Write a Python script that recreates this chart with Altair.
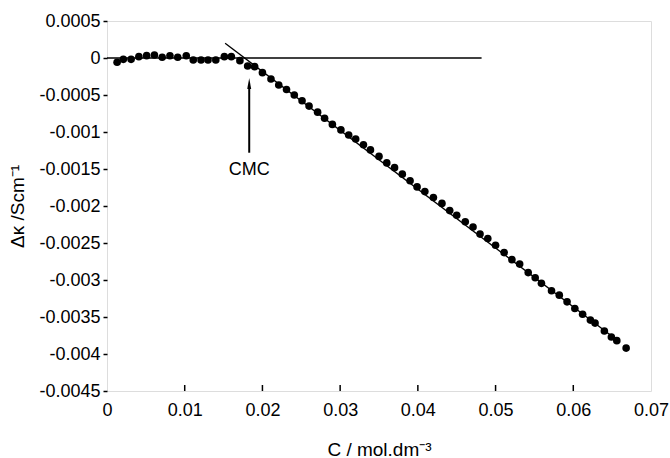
import altair as alt
import pandas as pd

# ---- data ----
conc = [0.0013, 0.0021, 0.0031, 0.0041, 0.0051, 0.0061, 0.0071, 0.0081, 0.0091, 0.0102,
        0.0111, 0.0121, 0.0130, 0.0140, 0.0151, 0.0160, 0.0171, 0.0181, 0.0190, 0.0200,
        0.0211, 0.0221, 0.0231, 0.0241, 0.0251, 0.0260, 0.0271, 0.0280, 0.0290, 0.0301,
        0.0311, 0.0320, 0.0330, 0.0339, 0.0350, 0.0360, 0.0370, 0.0380, 0.0390, 0.0399,
        0.0409, 0.0420, 0.0431, 0.0441, 0.0450, 0.0461, 0.0471, 0.0480, 0.0490, 0.0500,
        0.0511, 0.0521, 0.0531, 0.0542, 0.0551, 0.0559, 0.0572, 0.0582, 0.0592, 0.0602,
        0.0612, 0.0622, 0.0628, 0.0640, 0.0649, 0.0656, 0.0668]
dkappa = [-0.000058, -0.000018, -0.000018, 0.000018, 0.000032, 0.000040, 0.000010, 0.000030, 0.000010, 0.000030,
          -0.000027, -0.000027, -0.000027, -0.000027, 0.000018, 0.000018, -0.000036, -0.000108, -0.000117, -0.000198,
          -0.000284, -0.000365, -0.000425, -0.000500, -0.000578, -0.000650, -0.000732, -0.000815, -0.000897, -0.000972,
          -0.001040, -0.001095, -0.001172, -0.001242, -0.001330, -0.001418, -0.001482, -0.001570, -0.001658, -0.001742,
          -0.001805, -0.001885, -0.001965, -0.002062, -0.002125, -0.002212, -0.002283, -0.002380, -0.002440, -0.002530,
          -0.002630, -0.002725, -0.002785, -0.002900, -0.002970, -0.003045, -0.003145, -0.003205, -0.003295, -0.003385,
          -0.003462, -0.003542, -0.003582, -0.003690, -0.003770, -0.003820, -0.003920]

hline_c = [0.0, 0.0482]
hline_v = [0.0, 0.0]
fit_c = [0.0152, 0.0660]
fit_v = [0.00020, -0.00384]

cmc_c = [0.0183]
arrow_shaft_v = [-0.00128, -0.00040]
arrow_head_v = [-0.000345]
cmc_label_v = [-0.00151]
cmc_label = ["CMC"]

x_ticks = [0.0, 0.01, 0.02, 0.03, 0.04, 0.05, 0.06, 0.07]
y_ticks = [0.0005, 0.0, -0.0005, -0.001, -0.0015, -0.002, -0.0025, -0.003, -0.0035, -0.004, -0.0045]

W, H = 544, 370
FONT = "Liberation Sans"

pts = pd.DataFrame({"C": conc, "dk": dkappa})
hl = pd.DataFrame({"C": hline_c, "dk": hline_v})
fit = pd.DataFrame({"C": fit_c, "dk": fit_v})
shaft = pd.DataFrame({"C": cmc_c, "dk": [arrow_shaft_v[0]], "dk2": [arrow_shaft_v[1]]})
head = pd.DataFrame({"C": cmc_c, "dk": arrow_head_v})
lab = pd.DataFrame({"C": cmc_c, "dk": cmc_label_v, "t": cmc_label})
xt = pd.DataFrame({"C": x_ticks[1:-1]})

label_expr = "replace(format(datum.value, '~g'), '\u2212', '-')"

xscale = alt.Scale(domain=[0, 0.07], nice=False, zero=False)
yscale = alt.Scale(domain=[-0.0045, 0.0005], nice=False, zero=False)

xaxis = alt.Axis(values=x_ticks, labelExpr=label_expr, ticks=False, domain=False, grid=False,
                 labelPadding=10, labelFontSize=18, labelFont=FONT, labelColor="black",
                 labelOverlap=False,
                 title="C / mol.dm\u207b\u00b3", titleFont=FONT, titleFontSize=19,
                 titleFontWeight="normal", titleColor="black", titlePadding=21,
                 labelFlush=False)
yaxis = alt.Axis(values=y_ticks, labelExpr=label_expr, ticks=True, tickSize=4, tickWidth=1.5,
                 tickColor="black", domain=False, grid=False, labelPadding=3,
                 labelOverlap=False,
                 labelFontSize=18, labelFont=FONT, labelColor="black",
                 title="\u0394\u03ba /Scm\u207b\u00b9", titleFont=FONT, titleFontSize=19,
                 titleFontWeight="normal", titleColor="black", titlePadding=11)

X = alt.X("C:Q", scale=xscale, axis=xaxis)
Y = alt.Y("dk:Q", scale=yscale, axis=yaxis)

points = alt.Chart(pts).mark_circle(size=58, color="black", opacity=1).encode(x=X, y=Y)
hline = alt.Chart(hl).mark_line(color="black", strokeWidth=1.3).encode(x=X, y=Y)
fitline = alt.Chart(fit).mark_line(color="black", strokeWidth=1.3).encode(x=X, y=Y)
arrow = alt.Chart(shaft).mark_rule(color="black", strokeWidth=2).encode(x=X, y=Y, y2="dk2:Q")
arrowhead = alt.Chart(head).mark_point(
    shape="M0,-1L0.36,1L-0.36,1Z", size=121, filled=True, color="black", opacity=1, strokeWidth=0
).encode(x=X, y=Y)
text = alt.Chart(lab).mark_text(font=FONT, fontSize=18, color="black").encode(x=X, y=Y, text="t:N")
xticks = alt.Chart(xt).mark_rule(color="black", strokeWidth=1.5).encode(
    x=X, y=alt.value(H), y2=alt.value(H - 6))

chart = alt.layer(points, hline, fitline, arrow, arrowhead, text, xticks).properties(
    width=W, height=H,
    autosize=alt.AutoSizeParams(type="none"),
    padding={"left": 107, "top": 21, "right": 19, "bottom": 67},
).configure_view(stroke="black", strokeWidth=2).configure_axis(
    labelOverlap=False
).configure(background="white")

chart.save("out.html", embed_options={"renderer": "svg", "actions": False})
